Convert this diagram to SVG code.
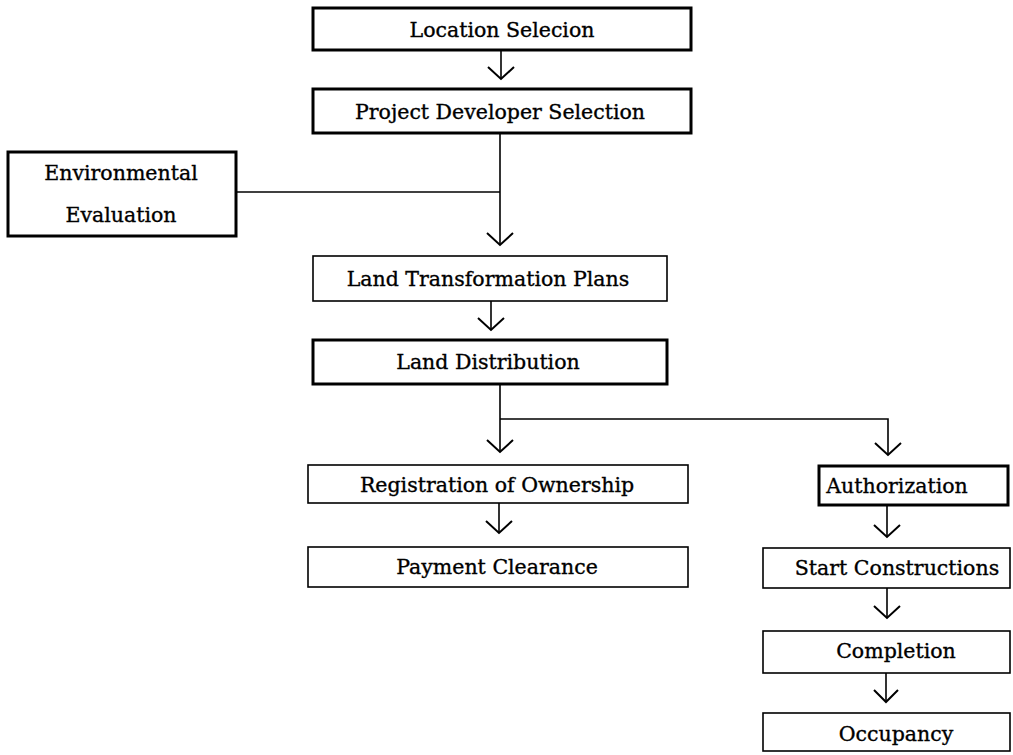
<svg xmlns="http://www.w3.org/2000/svg" width="1013" height="755" viewBox="0 0 1013 755">
<defs>
<style>
.box{fill:#fff;stroke:#000}
.thick{stroke-width:3}
.thin{stroke-width:1.6}
text{font-family:"DejaVu Serif","Liberation Serif",serif;font-size:20.5px;fill:#000;stroke:#000;stroke-width:0.35;text-anchor:middle}
.c{fill:none;stroke:#000;stroke-width:1.6}
.ah{fill:none;stroke:#000;stroke-width:2}
</style>
</defs>
<rect width="1013" height="755" fill="#fff"/>
<g id="connectors">
<path class="c" d="M501,50 V79"/>
<path class="ah" d="M488,67 L501,79 L514,67"/>
<path class="c" d="M500,133 V245"/>
<path class="c" d="M237,192 H500"/>
<path class="ah" d="M487,233 L500,245 L513,233"/>
<path class="c" d="M491,301 V330"/>
<path class="ah" d="M478,318 L491,330 L504,318"/>
<path class="c" d="M500,384 V452"/>
<path class="c" d="M500,419 H888 V455"/>
<path class="ah" d="M487,440 L500,452 L513,440"/>
<path class="ah" d="M875,443 L888,455 L901,443"/>
<path class="c" d="M499,503 V533"/>
<path class="ah" d="M486,521 L499,533 L512,521"/>
<path class="c" d="M887,505 V537"/>
<path class="ah" d="M874,525 L887,537 L900,525"/>
<path class="c" d="M887,588 V618"/>
<path class="ah" d="M874,606 L887,618 L900,606"/>
<path class="c" d="M886,673 V702"/>
<path class="ah" d="M874,690 L886,702 L898,690"/>
</g>
<g id="n-location"><rect class="box thick" x="313" y="8" width="378" height="42"/><text x="502" y="37">Location Selecion</text></g>
<g id="n-developer"><rect class="box thick" x="313" y="89" width="378" height="44"/><text x="500" y="119">Project Developer Selection</text></g>
<g id="n-environmental"><rect class="box thick" x="8" y="152" width="228" height="84"/><text x="121" y="180">Environmental</text><text x="121" y="222">Evaluation</text></g>
<g id="n-landtrans"><rect class="box thin" x="313" y="256" width="354" height="45"/><text x="488" y="286">Land Transformation Plans</text></g>
<g id="n-landdist"><rect class="box thick" x="313" y="340" width="354" height="44"/><text x="488" y="369">Land Distribution</text></g>
<g id="n-registration"><rect class="box thin" x="308" y="465" width="380" height="38"/><text x="497" y="492">Registration of Ownership</text></g>
<g id="n-payment"><rect class="box thin" x="308" y="547" width="380" height="40"/><text x="497" y="574">Payment Clearance</text></g>
<g id="n-authorization"><rect class="box thick" x="819" y="466" width="189" height="39"/><text x="897" y="493">Authorization</text></g>
<g id="n-start"><rect class="box thin" x="763" y="548" width="247" height="40"/><text x="897" y="575">Start Constructions</text></g>
<g id="n-completion"><rect class="box thin" x="763" y="631" width="247" height="42"/><text x="896" y="658">Completion</text></g>
<g id="n-occupancy"><rect class="box thin" x="763" y="713" width="247" height="38"/><text x="896" y="741">Occupancy</text></g>
</svg>
